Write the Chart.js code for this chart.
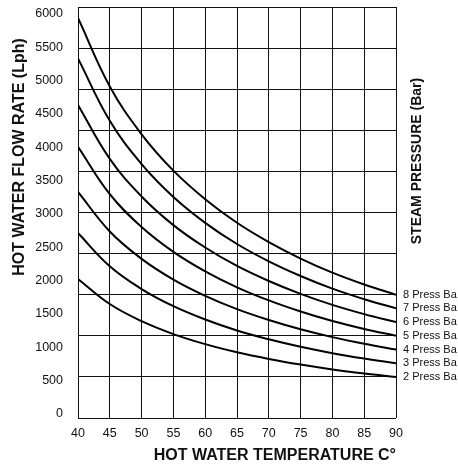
<!DOCTYPE html>
<html>
<head>
<meta charset="utf-8">
<script src="https://cdn.jsdelivr.net/npm/chart.js@4"></script>
<style>
html,body{margin:0;padding:0;background:#fff;}
#wrap{width:458px;height:469px;position:relative;}
</style>
</head>
<body>
<div id="wrap"><canvas id="c"></canvas></div>
<script>
// ---- data ----
const temperatures = [40, 45, 50, 55, 60, 65, 70, 75, 80, 85, 90];
const press2 = [2030, 1664, 1414, 1225, 1078, 959, 862, 780, 709, 650, 600];
const press3 = [2700, 2215, 1882, 1632, 1438, 1278, 1149, 1039, 946, 868, 800];
const press4 = [3300, 2723, 2323, 2021, 1784, 1590, 1431, 1296, 1181, 1084, 1000];
const press5 = [3960, 3267, 2788, 2425, 2141, 1908, 1717, 1555, 1416, 1300, 1200];
const press6 = [4570, 3782, 3234, 2816, 2489, 2220, 2000, 1812, 1651, 1516, 1400];
const press7 = [5250, 4339, 3706, 3226, 2849, 2540, 2287, 2073, 1888, 1734, 1600];
const press8 = [5840, 4840, 4142, 3611, 3194, 2850, 2568, 2328, 2122, 1949, 1800];
const seriesLabels = ['2 Press Ba', '3 Press Ba', '4 Press Ba', '5 Press Ba', '6 Press Ba', '7 Press Ba', '8 Press Ba'];
const yTickLabels = [0, 500, 1000, 1500, 2000, 2500, 3000, 3500, 4000, 4500, 5000, 5500, 6000];
const xTickLabels = [40, 45, 50, 55, 60, 65, 70, 75, 80, 85, 90];
const xTitle = 'HOT WATER TEMPERATURE C°';
const yTitle = 'HOT WATER FLOW RATE (Lph)';
const rightTitle = 'STEAM PRESSURE (Bar)';

const seriesValues = [press2, press3, press4, press5, press6, press7, press8];

const FONT = "'Liberation Sans', Arial, Helvetica, sans-serif";
Chart.defaults.font.family = FONT;
Chart.defaults.color = '#111';

const datasets = seriesValues.map((vals, i) => ({
  label: seriesLabels[i],
  data: temperatures.map((t, j) => ({x: t, y: vals[j]})),
  borderColor: '#000',
  backgroundColor: '#000',
  borderWidth: 2,
  pointRadius: 0,
  fill: false,
  tension: 0.4,
  xAxisID: 'x',
  yAxisID: 'y'
}));

const endLabelMap = new Map(seriesValues.map((vals, i) => [vals[vals.length - 1], seriesLabels[i]]));

function noVPad(s) { s.paddingTop = 0; s.paddingBottom = 0; }

const vTitles = {
  id: 'vTitles',
  afterDraw(chart) {
    const ctx = chart.ctx;
    const a = chart.chartArea;
    ctx.save();
    ctx.fillStyle = '#111';
    ctx.textAlign = 'center';
    ctx.textBaseline = 'middle';
    ctx.font = "bold 16px " + FONT;
    ctx.translate(20, a.top + 150);
    ctx.rotate(-Math.PI / 2);
    ctx.fillText(yTitle, 0, 0);
    ctx.restore();
    ctx.save();
    ctx.fillStyle = '#111';
    ctx.textAlign = 'center';
    ctx.textBaseline = 'middle';
    ctx.font = "bold 14px " + FONT;
    ctx.translate(a.right + 21, a.top + 154);
    ctx.rotate(-Math.PI / 2);
    ctx.fillText(rightTitle, 0, 0);
    ctx.restore();
  }
};

new Chart(document.getElementById('c'), {
  type: 'line',
  data: {datasets},
  plugins: [vTitles],
  options: {
    responsive: true,
    maintainAspectRatio: false,
    animation: false,
    layout: {padding: {top: 7, left: 0, right: 0, bottom: 0}},
    plugins: {legend: {display: false}, tooltip: {enabled: false}},
    scales: {
      x: {
        type: 'linear',
        position: 'bottom',
        min: 40, max: 90,
        afterBuildTicks: s => { s.ticks = xTickLabels.map(v => ({value: v})); },
        grid: {color: '#111', lineWidth: 1, drawTicks: false},
        border: {display: false},
        ticks: {padding: 8, font: {size: 12.5}, color: '#111', callback: v => String(v)},
        title: {display: true, text: xTitle, align: 'end', font: {size: 16, weight: 'bold'}, color: '#111', padding: {top: 0, bottom: 4}},
        afterFit: s => { s.height = 51; }
      },
      y: {
        type: 'linear',
        position: 'left',
        min: 0, max: 6000,
        ticks: {display: false, stepSize: 600},
        grid: {color: '#111', lineWidth: 1, drawTicks: false},
        border: {display: false},
        afterFit: s => { s.width = 0; noVPad(s); }
      },
      yl: {
        type: 'linear',
        position: 'left',
        min: -60, max: 6105,
        afterBuildTicks: s => { s.ticks = yTickLabels.map(v => ({value: v})); },
        grid: {display: false, drawTicks: false},
        border: {display: false},
        ticks: {padding: 15, font: {size: 12.5}, color: '#111', autoSkip: false, callback: v => String(v)},
        afterFit: s => { s.width = 78; noVPad(s); }
      },
      yr: {
        type: 'linear',
        position: 'right',
        min: 0, max: 6000,
        afterBuildTicks: s => { s.ticks = seriesValues.map(v => ({value: v[v.length - 1]})); },
        grid: {display: false, drawTicks: false},
        border: {display: false},
        ticks: {padding: 7, font: {size: 11}, color: '#111', autoSkip: false,
          callback: v => endLabelMap.get(v) || ''},
        afterFit: s => { s.width = 62; noVPad(s); }
      }
    }
  }
});
</script>
</body>
</html>
